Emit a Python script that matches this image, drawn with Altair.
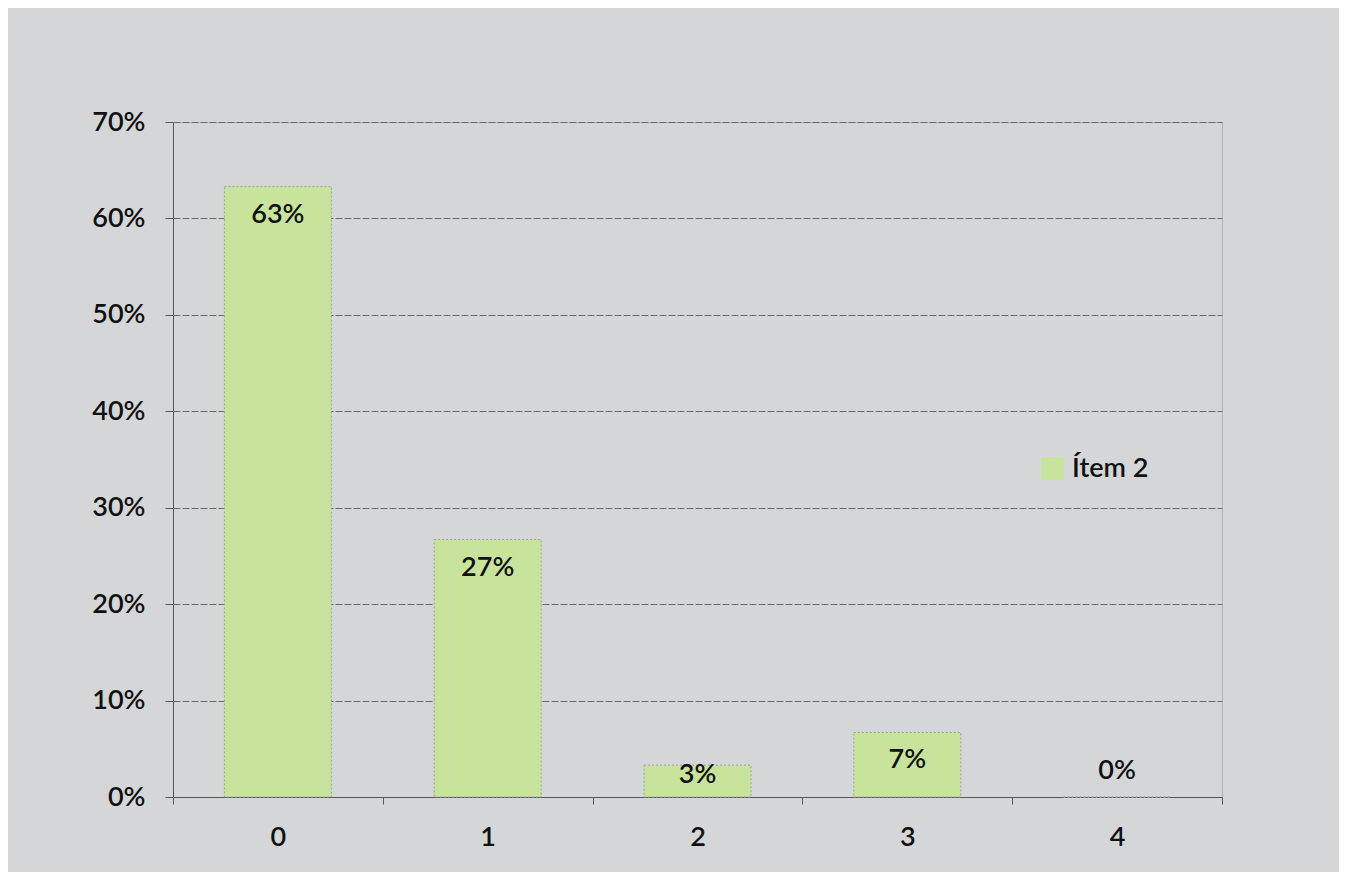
import altair as alt
import pandas as pd

categories = ["0", "1", "2", "3", "4"]
values = [0.633, 0.267, 0.033, 0.067, 0.0]
labels = ["63%", "27%", "3%", "7%", "0%"]
series = ["Ítem 2"] * 5
y_ticks = [0, 0.1, 0.2, 0.3, 0.4, 0.5, 0.6, 0.7]

df = pd.DataFrame({"cat": categories, "v": values, "lab": labels, "serie": series})

FONT = "Lato"
WEIGHT = 600
BG = "#d5d6d8"
GREEN = "#c8e49c"

x = alt.X("cat:N", sort=categories, title=None,
          scale=alt.Scale(paddingInner=0, paddingOuter=0),
          axis=alt.Axis(labelAngle=0, labelFontSize=27, labelFont=FONT, labelColor="#111",
                        labelFontWeight=WEIGHT,
                        labelPadding=20, tickBand="extent", tickSize=7, tickColor="#555",
                        domainColor="#555", grid=False))

bars = alt.Chart(df).mark_bar(stroke="#a0a0a0", strokeWidth=1, strokeDash=[2, 2],
                              width=alt.RelativeBandSize(0.51)).encode(
    x=x,
    y=alt.Y("v:Q", title=None,
            scale=alt.Scale(domain=[0, 0.7], nice=False),
            axis=alt.Axis(format=".0%", values=y_ticks, labelFontSize=27, labelFont=FONT,
                          labelFontWeight=WEIGHT,
                          labelColor="#111", labelPadding=20, tickSize=8, tickColor="#555",
                          domainColor="#555", gridColor="#6a6a6a", gridDash=[7, 2],
                          gridWidth=1)),
    color=alt.Color("serie:N", title=None,
                    scale=alt.Scale(range=[GREEN]),
                    legend=alt.Legend(orient="none", legendX=866, legendY=333,
                                      symbolType="square", symbolSize=520,
                                      symbolStrokeWidth=0, labelFontSize=27,
                                      labelFont=FONT, labelColor="#111",
                                      labelFontWeight=WEIGHT,
                                      labelOffset=6)),
)

text = alt.Chart(df).transform_calculate(
    ly="datum.v >= 0.05 ? datum.v - 0.029 : (datum.v > 0 ? datum.v - 0.01 : 0.027)"
).mark_text(font=FONT, fontSize=27, fontWeight=WEIGHT, color="#111", baseline="middle").encode(
    x=alt.X("cat:N", sort=categories),
    y=alt.Y("ly:Q"),
    text="lab:N",
)

chart = (bars + text).properties(
    width=1049, height=675,
    autosize=alt.AutoSizeParams(type="none"),
    padding={"left": 165, "top": 114, "right": 117, "bottom": 75},
    background=BG,
).configure_view(stroke="#b4b4b4", strokeWidth=1)

chart.save("out.html", embed_options={"renderer": "svg", "actions": False})
